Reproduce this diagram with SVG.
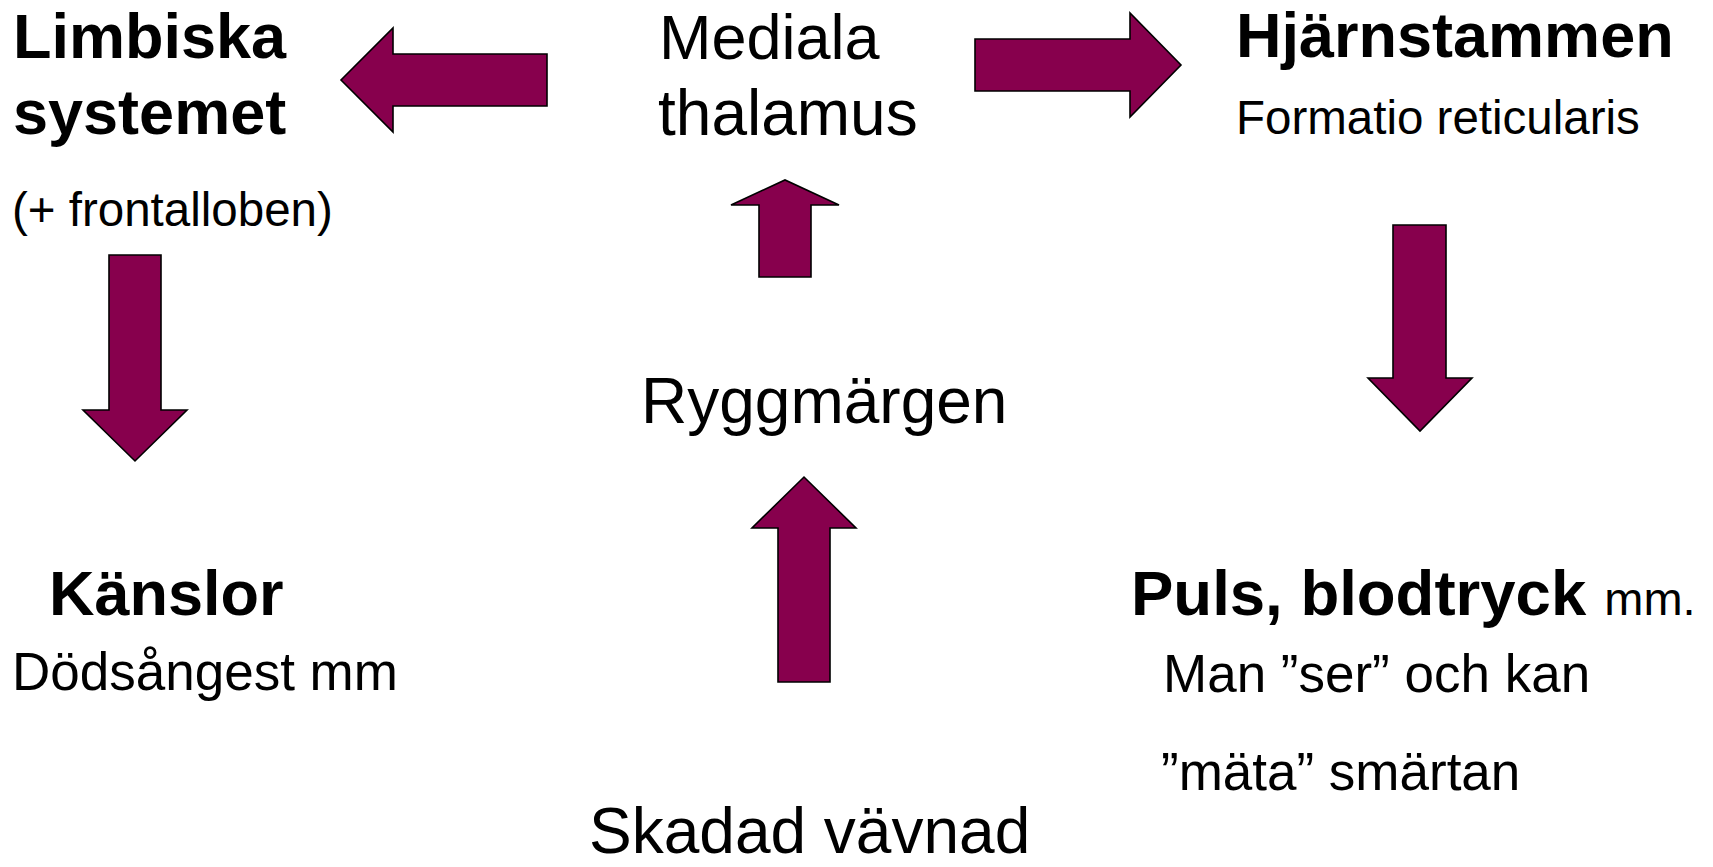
<svg xmlns="http://www.w3.org/2000/svg" width="1713" height="867" viewBox="0 0 1713 867">
  <style>
    .arrow { fill: #87004D; stroke: #000000; stroke-width: 1.6; stroke-linejoin: miter; }
    text { font-family: "Liberation Sans", Arial, sans-serif; fill: #000000; }
    .big { font-size: 63px; }
    .bold { font-weight: bold; }
    .mid { font-size: 53px; }
    .small { font-size: 47.5px; }
  </style>
  <rect width="1713" height="867" fill="#ffffff"/>

  <!-- block arrows between the stations -->
  <g id="connectors">
    <!-- thalamus to limbic system (left) -->
    <polygon class="arrow" points="547,54 393,54 393,28 341,80 393,132 393,106 547,106"/>
    <!-- thalamus to brainstem (right) -->
    <polygon class="arrow" points="975,39 1130,39 1130,13 1181,65 1130,117 1130,91 975,91"/>
    <!-- spinal cord to thalamus (up, short) -->
    <polygon class="arrow" points="759,277 759,205 731,205 785,180 839,205 811,205 811,277"/>
    <!-- damaged tissue to spinal cord (up) -->
    <polygon class="arrow" points="778,682 778,528 752,528 804,477 856,528 830,528 830,682"/>
    <!-- limbic system to emotions (down) -->
    <polygon class="arrow" points="109,255 161,255 161,410 187,410 135,461 83,410 109,410"/>
    <!-- brainstem to pulse / blood pressure (down) -->
    <polygon class="arrow" points="1393,225 1446,225 1446,378 1472,378 1420,431 1368,378 1393,378"/>
  </g>

  <g id="node-limbiska">
    <text class="big bold" x="13" y="58">Limbiska</text>
    <text class="big bold" x="13" y="134">systemet</text>
    <text class="small" x="12" y="226">(+ frontalloben)</text>
  </g>

  <g id="node-thalamus">
    <text class="big" x="659" y="59">Mediala</text>
    <text x="658" y="135" font-size="64">thalamus</text>
  </g>

  <g id="node-hjarnstammen">
    <text class="bold" x="1236" y="57" font-size="63">Hjärnstammen</text>
    <text class="small" x="1236" y="134">Formatio reticularis</text>
  </g>

  <g id="node-ryggmargen">
    <text x="641" y="423" font-size="64">Ryggmärgen</text>
  </g>

  <g id="node-skadad">
    <text x="589" y="853" font-size="64">Skadad vävnad</text>
  </g>

  <g id="node-kanslor">
    <text class="big bold" x="49" y="615">Känslor</text>
    <text class="mid" x="12" y="690">Dödsångest mm</text>
  </g>

  <g id="node-puls">
    <text x="1131" y="615"><tspan class="bold" font-size="63.5">Puls, blodtryck</tspan><tspan font-size="47" dx="5"> mm.</tspan></text>
    <text class="mid" x="1163" y="692">Man ”ser” och kan</text>
    <text class="mid" x="1161" y="790">”mäta” smärtan</text>
  </g>
</svg>
